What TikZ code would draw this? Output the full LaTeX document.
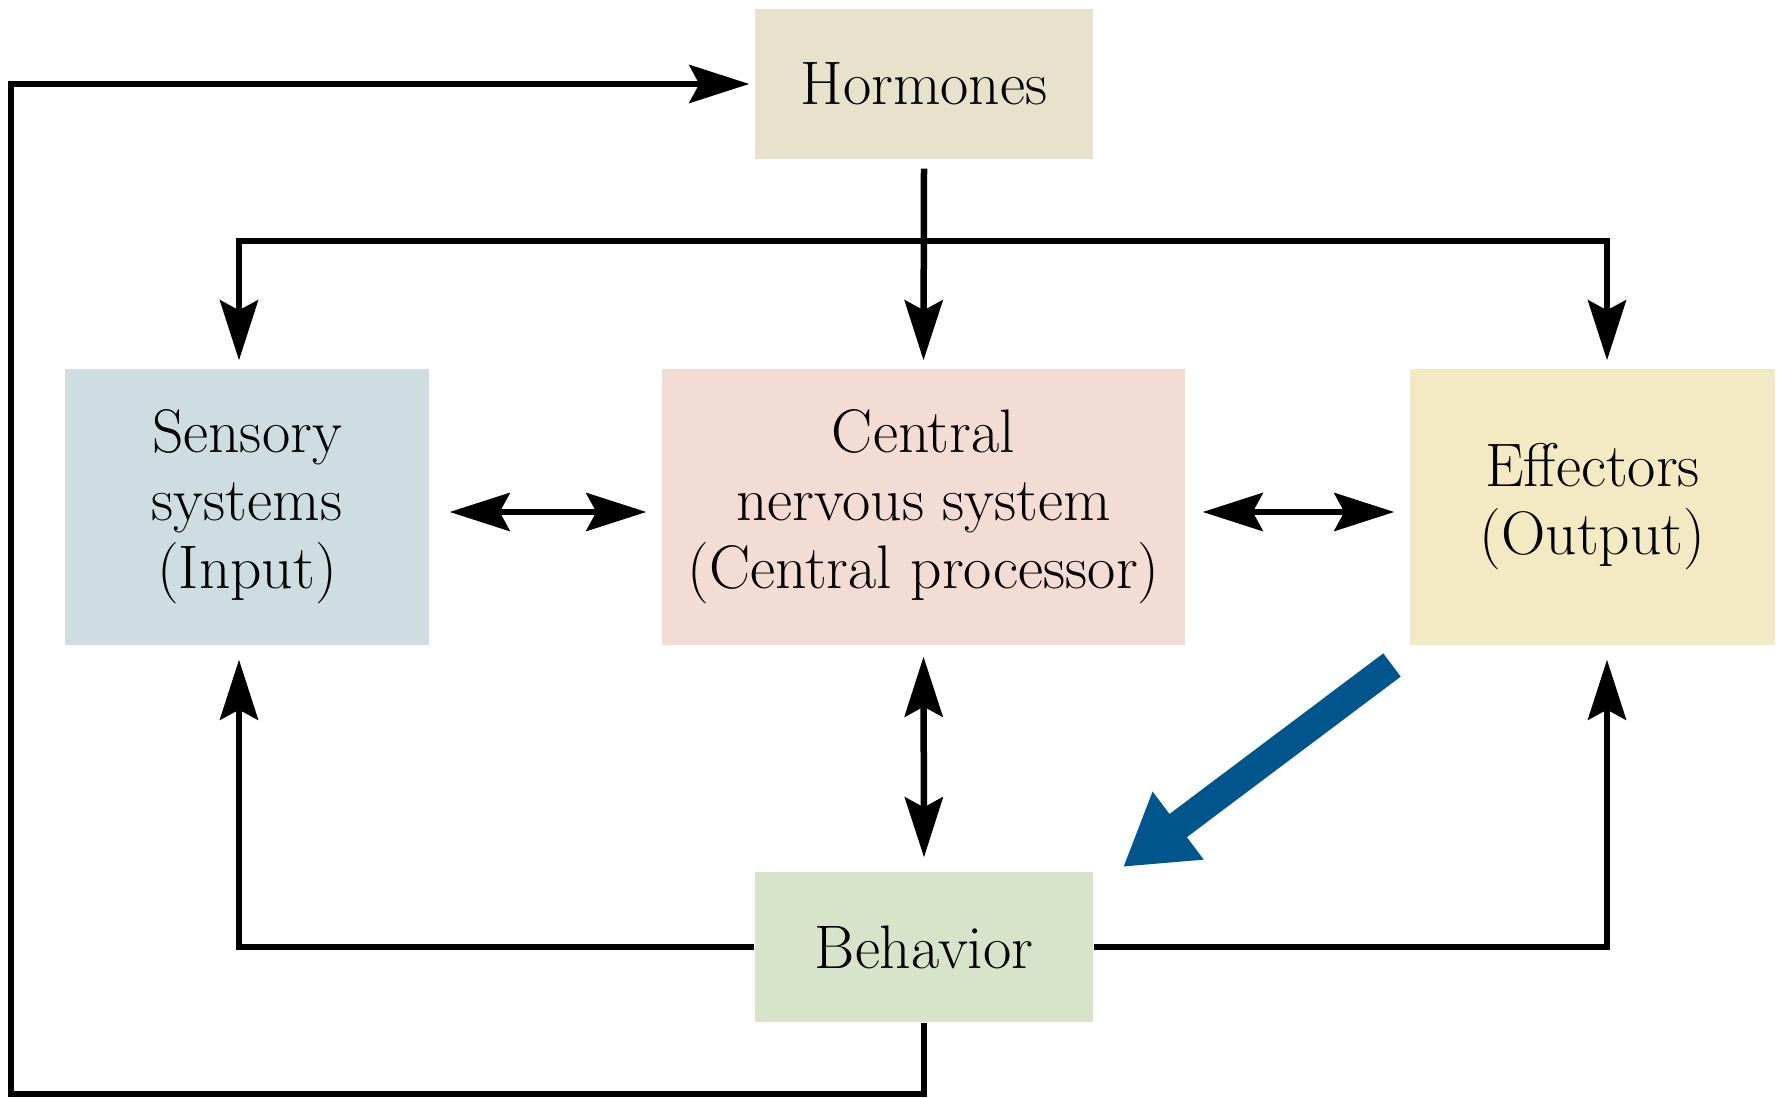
\documentclass[tikz,border=0pt]{standalone}
\usepackage{tikz}
\usetikzlibrary{arrows.meta,positioning}

\definecolor{hormfill}{RGB}{232,226,204}
\definecolor{sensfill}{RGB}{206,221,225}
\definecolor{cnsfill}{RGB}{242,220,212}
\definecolor{efffill}{RGB}{243,233,195}
\definecolor{behfill}{RGB}{216,228,202}
\definecolor{bigblue}{RGB}{0,85,140}

\begin{document}
\begin{tikzpicture}[
    box/.style={rectangle, inner sep=0pt, align=center, font=\fontsize{17.5}{19.4}\selectfont},
    link/.style={line width=0.065cm, line join=miter, -{Stealth[length=0.6cm, width=0.38cm, inset=0.1cm]}},
    twoway/.style={line width=0.065cm, line join=miter, {Stealth[length=0.6cm, width=0.38cm, inset=0.1cm]}-{Stealth[length=0.6cm, width=0.38cm, inset=0.1cm]}},
    bigarrow/.style={line width=0.29cm, bigblue, -{Triangle[length=0.69cm, width=0.8cm]}}
]
\useasboundingbox[fill=white] (0,0) rectangle (17.81,-10.98);

% Boxes
\node[box, fill=hormfill, minimum width=3.38cm, minimum height=1.5cm] (horm) at (9.24,-0.84) {Hormones};
\node[box, fill=sensfill, minimum width=3.64cm, minimum height=2.76cm] (sens) at (2.47,-5.07) {Sensory\\systems\\(Input)};
\node[box, fill=cnsfill, minimum width=5.23cm, minimum height=2.76cm] (cns) at (9.235,-5.07) {Central\\nervous system\\(Central processor)};
\node[box, fill=efffill, minimum width=3.65cm, minimum height=2.76cm] (eff) at (15.925,-5.07) {Effectors\\(Output)};
\node[box, fill=behfill, minimum width=3.38cm, minimum height=1.5cm] (beh) at (9.24,-9.47) {Behavior};

% Corner points
\coordinate (barL) at (2.39,-2.41);
\coordinate (barR) at (16.07,-2.41);
\coordinate (loopbl) at (0.11,-10.94);
\coordinate (tail) at (13.92,-6.65);
\coordinate (head) at (11.23,-8.67);

% Hormones
\draw[link] ([yshift=-0.09cm]horm.south) -- ([yshift=0.08cm]cns.north);
\draw[twoway] ([yshift=0.08cm]barL |- sens.north) -- (barL) -- (barR) -- ([yshift=0.08cm]barR |- eff.north);

% Two-way links
\draw[twoway] ([xshift=0.2cm,yshift=-0.05cm]sens.east) -- ([xshift=-0.15cm,yshift=-0.05cm]cns.west);
\draw[twoway] ([xshift=0.17cm,yshift=-0.05cm]cns.east) -- ([xshift=-0.15cm,yshift=-0.05cm]eff.west);
\draw[twoway] ([yshift=-0.11cm]cns.south) -- ([yshift=0.14cm]beh.north);

% Feedback from behavior
\draw[link] (beh.west) -| ([yshift=-0.14cm]barL |- sens.south);
\draw[link] (beh.east) -| ([yshift=-0.14cm]barR |- eff.south);
\draw[link, shorten >=0.05cm] (beh.south) |- (loopbl) |- (horm.west);

% Output to behavior
\draw[bigarrow] (tail) -- (head);
\end{tikzpicture}
\end{document}
